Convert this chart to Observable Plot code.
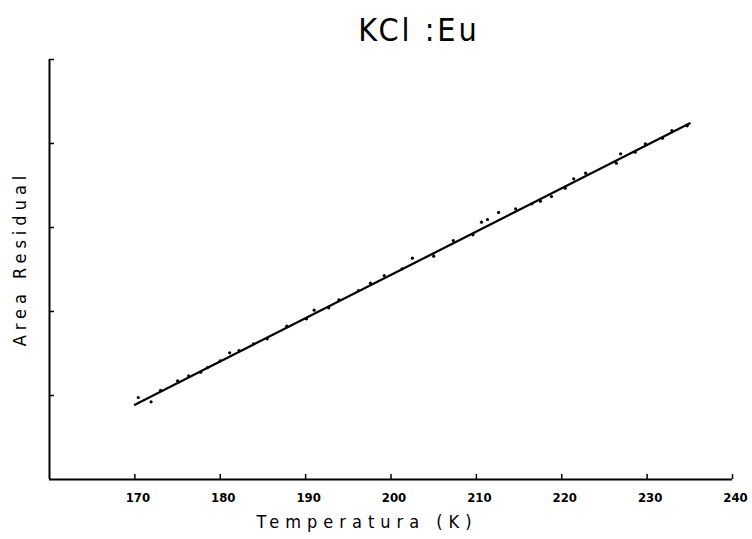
<!DOCTYPE html>
<html>
<head>
<meta charset="utf-8">
<script src="https://cdn.jsdelivr.net/npm/d3@7"></script>
<script src="https://cdn.jsdelivr.net/npm/@observablehq/plot@0.6"></script>
<style>
  html, body { margin: 0; padding: 0; background: #fff; }
  svg { display: block; }
  .ttl text { letter-spacing: 3px; }
  .ylab text { letter-spacing: 5px; }
  .xlab text { letter-spacing: 6px; }
</style>
</head>
<body>
<div id="chart"></div>
<script>
const title = "KCl :Eu";
const xLabel = "Temperatura (K)";
const yLabel = "Area Residual";
const xTicks = [170, 180, 190, 200, 210, 220, 230, 240];
const yTicks = [1, 2, 3, 4, 5];

// measured points
const temps = [170.4, 171.9, 173.0, 175.0, 176.3, 177.7, 178.5, 180.0, 181.1, 182.2,
  183.9, 185.5, 187.8, 190.1, 191.0, 192.7, 193.9, 196.2,
  197.6, 199.2, 201.3, 202.5, 205.0, 207.3, 209.6,
  210.6, 211.3, 212.6, 214.6, 216.5, 217.5, 218.8, 220.4, 221.4, 222.8,
  226.4, 226.9, 228.6, 229.8, 231.8, 232.9, 234.7];
const areas = [0.976, 0.925, 1.06, 1.175, 1.234, 1.277, 1.333, 1.413, 1.508, 1.536,
  1.615, 1.675, 1.825, 1.913, 2.016, 2.044, 2.139, 2.25,
  2.337, 2.428, 2.508, 2.635, 2.659, 2.845, 2.913,
  3.063, 3.095, 3.179, 3.222, 3.282, 3.313, 3.369, 3.468, 3.58, 3.647,
  3.766, 3.877, 3.897, 3.996, 4.063, 4.155, 4.21];

// fitted line end points
const fitX = [170, 235];
const fitY = [0.89, 4.24];

const points = temps.map((t, i) => ({t, a: areas[i]}));
const fit = fitX.map((t, i) => ({t, a: fitY[i]}));

const font = "'DejaVu Sans Condensed', 'Liberation Sans Narrow', 'Liberation Sans', sans-serif";

const chart = Plot.plot({
  width: 752,
  height: 539,
  marginLeft: 49,
  marginRight: 20,
  marginTop: 59,
  marginBottom: 60,
  style: {fontFamily: font, background: "#fff", color: "#000"},
  x: {domain: [160, 240], axis: null},
  y: {domain: [0, 5], axis: null},
  marks: [
    // axis lines
    Plot.ruleX([160], {y1: 0, y2: 5, stroke: "#000", strokeWidth: 2}),
    Plot.ruleY([0], {x1: 160, x2: 240, stroke: "#000", strokeWidth: 2}),
    // inward ticks
    Plot.ruleX(xTicks, {x: d => d, y1: 0, y2: 0, insetTop: -5, stroke: "#000", strokeWidth: 1.5}),
    Plot.ruleY(yTicks, {y: d => d, x1: 160, x2: 160, insetRight: -5, stroke: "#000", strokeWidth: 1.5}),
    // tick labels
    Plot.text(xTicks, {x: d => d, y: 0, dy: 18, dx: 3, text: d => String(d), fontSize: 13, fontWeight: "bold", fill: "#000"}),
    // fit line and points
    Plot.line(fit, {x: "t", y: "a", stroke: "#000", strokeWidth: 2.2}),
    Plot.dot(points, {x: "t", y: "a", r: 1.6, fill: "#000", stroke: "none"}),
    // labels
    Plot.text([title], {frameAnchor: "top", textAnchor: "middle", lineAnchor: "middle", dx: 28, dy: -29, text: d => d, fontSize: 32, fill: "#000", className: "ttl"}),
    Plot.text([yLabel], {frameAnchor: "left", textAnchor: "middle", dx: -29, dy: -11, rotate: -90, text: d => d, fontSize: 18, fill: "#000", className: "ylab"}),
    Plot.text([xLabel], {frameAnchor: "bottom", textAnchor: "middle", dx: -24, dy: 48, text: d => d, fontSize: 18, fill: "#000", className: "xlab"})
  ]
});
document.getElementById("chart").appendChild(chart);
</script>
</body>
</html>
